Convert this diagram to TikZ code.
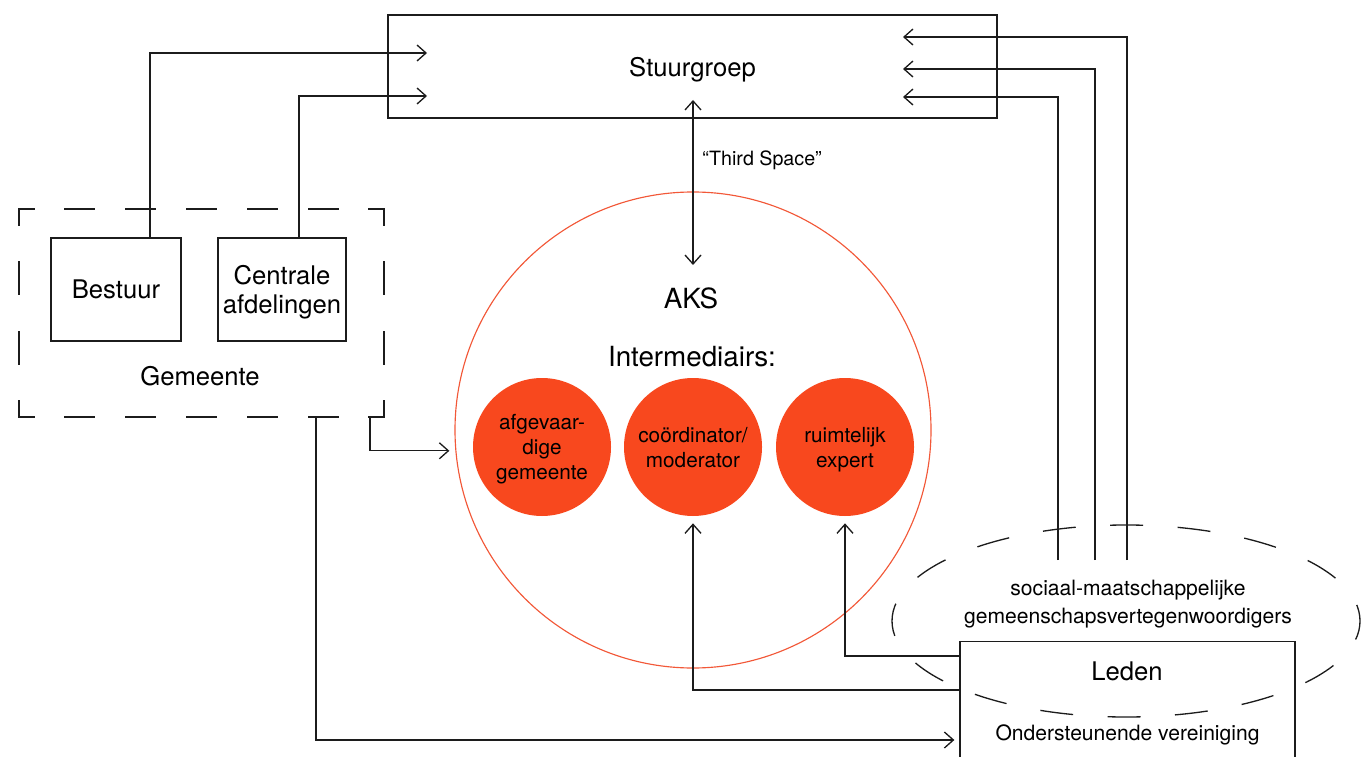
\documentclass[tikz,border=0pt]{standalone}
\usepackage{fontspec}
\setmainfont{TeX Gyre Heros}
\usetikzlibrary{arrows.meta,shapes.geometric}
\definecolor{ink}{RGB}{28,28,28}
\definecolor{aksred}{RGB}{248,72,30}
\definecolor{aksline}{RGB}{242,88,56}
\tikzset{
    line/.style={draw=ink, line width=0.75pt},
    flow/.style={line, -{Straight Barb[length=1.8mm,width=3.2mm]}},
    twoway/.style={line, {Straight Barb[length=1.8mm,width=3.2mm]}-{Straight Barb[length=1.8mm,width=3.2mm]}},
    box/.style={line, inner sep=0pt, align=center, text depth=0pt, font=\fontsize{14.6}{16.5}\selectfont},
    lbl/.style={inner sep=0pt, align=center, text depth=0pt, font=\fontsize{14.6}{16.5}\selectfont},
    big/.style={inner sep=0pt, font=\fontsize{15.8}{18}\selectfont},
    small/.style={inner sep=0pt, align=center, text depth=0pt, font=\fontsize{12}{15.9}\selectfont},
    role/.style={circle, fill=aksred, minimum size=2.76cm, inner sep=0pt, align=center, text depth=0pt, font=\fontsize{11.8}{14.2}\selectfont},
    dashh/.style={line, line cap=rect, dash pattern=on 0.6cm off 0.6167cm, dash phase=0.3cm},
    dashv/.style={line, line cap=rect, dash pattern=on 0.66cm off 0.7267cm, dash phase=0.33cm}
}
\begin{document}
\begin{tikzpicture}
            \useasboundingbox (0,0) rectangle (27.26,15.12);

            \node[box, minimum width=12.18cm, minimum height=2.06cm] (stuur) at (13.85,13.79) {Stuurgroep};
            \node[box, minimum width=2.6cm, minimum height=2.06cm] (bestuur) at (2.32,9.33) {Bestuur};
            \node[box, minimum width=2.56cm, minimum height=2.06cm] (centrale) at (5.64,9.33) {Centrale\\afdelingen};
            \node[lbl] (gemeente) at (4.0,7.6) {Gemeente};

            \coordinate (gnw) at (0.38,10.94);
            \coordinate (gne) at (7.68,10.94);
            \coordinate (gsw) at (0.38,6.78);
            \coordinate (gse) at (7.68,6.78);
            \draw[dashh] (gnw) -- (gne) (gsw) -- (gse);
            \draw[dashv] (gnw) -- (gsw) (gne) -- (gse);

            \node[circle, draw=aksline, line width=0.65pt, minimum size=9.52cm, inner sep=0pt] (aks) at (13.86,6.52) {};
            \node[big] (akslbl) at (13.82,9.16) {AKS};
            \node[big] (intlbl) at (13.84,7.98) {Intermediairs:};
            \node[role] (afg) at (10.84,6.18) {afgevaar-\\dige\\gemeente};
            \node[role] (coord) at (13.86,6.18) {coördinator/\\moderator};
            \node[role] (expert) at (16.9,6.18) {ruimtelijk\\expert};

            \node[ellipse, line, minimum width=9.36cm, minimum height=3.84cm, inner sep=0pt, dash pattern=on 0.66cm off 0.69cm, dash phase=0.33cm] (rep) at (22.52,2.7) {};
            \node[small] (reptxt) at (22.56,3.08) {sociaal-maatschappelijke\\gemeenschapsvertegenwoordigers};

            \node[line, minimum width=6.7cm, minimum height=3cm, inner sep=0pt, anchor=north] (leden) at (22.55,2.3) {};
            \node[lbl] (ledenlbl) at (22.54,1.7) {Leden};
            \node[small] (ondlbl) at (22.55,0.46) {Ondersteunende vereiniging};

            \coordinate (in1) at (8.54,14.06);
            \coordinate (in2) at (8.54,13.2);
            \coordinate (in3) at (18.06,14.38);
            \coordinate (in4) at (18.06,13.74);
            \coordinate (in5) at (18.06,13.18);
            \coordinate (r1) at (22.54,3.92);
            \coordinate (r2) at (21.9,3.92);
            \coordinate (r3) at (21.16,3.92);
            \coordinate (g2a) at (7.4,6.78);
            \coordinate (g2l) at (6.32,6.78);
            \coordinate (ts1) at (13.86,13.12);
            \coordinate (ts2) at (13.86,9.82);

            \draw[flow] (bestuur.north -| 3,0) |- (in1);
            \draw[flow] (centrale.north -| 5.98,0) |- (in2);
            \draw[flow] (r1) |- (in3);
            \draw[flow] (r2) |- (in4);
            \draw[flow] (r3) |- (in5);
            \draw[twoway] (ts1) -- (ts2);
            \node[small, font=\fontsize{11.2}{13}\selectfont, anchor=west] (tslbl) at (14.04,11.96) {“Third Space”};
            \draw[flow, shorten >=1.2mm] (g2a) |- (aks.185.5);
            \draw[flow, shorten >=1mm] (g2l) |- (leden.west |- 0,0.32);
            \draw[flow, shorten >=1.4mm] (leden.west |- 0,1.32) -| (coord.south);
            \draw[flow, shorten >=1.4mm] (leden.west |- 0,2.0) -| (expert.south);
        \end{tikzpicture}
\end{document}
